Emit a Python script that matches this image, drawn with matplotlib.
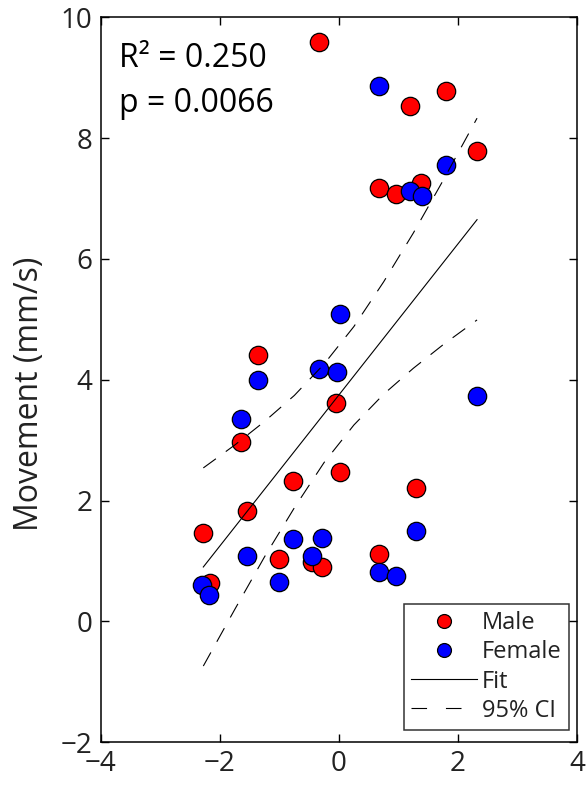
import numpy as np
import matplotlib.pyplot as plt
from matplotlib.lines import Line2D

plt.rcParams['font.family'] = ['Open Sans', 'DejaVu Sans']

# standardized predictor vs. movement, split by sex
male_x = [-0.33, 1.20, 1.79, 2.32, 0.67, 0.95, 1.38, -1.36, -0.05, -1.64,
          0.02, -0.78, 1.30, -1.55, -2.28, -1.00, 0.67, -0.46, -0.29, -2.16]
male_y = [9.59, 8.53, 8.78, 7.79, 7.18, 7.07, 7.26, 4.41, 3.61, 2.97,
          2.48, 2.33, 2.20, 1.82, 1.46, 1.03, 1.11, 0.98, 0.90, 0.64]
female_x = [0.67, 1.79, 1.20, 1.39, 0.02, -1.36, -0.33, -0.04, 2.32, -1.64,
            1.30, -0.78, -0.29, -1.55, -0.46, -1.00, 0.67, 0.95, -2.30, -2.19]
female_y = [8.86, 7.55, 7.12, 7.04, 5.09, 4.00, 4.18, 4.12, 3.73, 3.35,
            1.49, 1.37, 1.38, 1.08, 1.08, 0.65, 0.81, 0.75, 0.60, 0.44]

# regression line and 95% confidence band
fit_x = [-2.28, 2.32]
fit_y = [0.90, 6.65]
ci_x = [-2.28, -1.75, -1.25, -0.75, -0.25, 0.25, 0.75, 1.25, 1.75, 2.32]
ci_upper = [2.54, 2.92, 3.31, 3.74, 4.26, 4.88, 5.62, 6.43, 7.30, 8.33]
ci_lower = [-0.74, 0.20, 1.07, 1.88, 2.63, 3.25, 3.76, 4.19, 4.58, 4.99]

r2_text = 'R² = 0.250'
p_text = 'p = 0.0066'

fig = plt.figure(figsize=(5.87, 7.87), dpi=100)
ax = fig.add_axes([0.172, 0.057, 0.811, 0.921])

ax.scatter(male_x, male_y, s=175, c='red', edgecolors='black', linewidths=0.9, zorder=2)
ax.scatter(female_x, female_y, s=175, c='blue', edgecolors='black', linewidths=0.9, zorder=2)
ax.plot(fit_x, fit_y, color='black', lw=0.8, zorder=3)
ax.plot(ci_x, ci_upper, color='black', lw=0.8, dashes=(14, 11), zorder=3)
ax.plot(ci_x, ci_lower, color='black', lw=0.8, dashes=(14, 11), zorder=3)

ax.text(-3.69, 9.18, r2_text, fontsize=23, color='black')
ax.text(-3.69, 8.44, p_text, fontsize=23, color='black')

ax.set_xlim(-4, 4)
ax.set_ylim(-2, 10)
ax.set_xticks(np.arange(-4, 5, 2))
ax.set_yticks(np.arange(-2, 11, 2))
ax.tick_params(direction='in', length=6, width=1, top=True, right=True,
               labelsize=20, labelcolor='#222222', pad=6)
for s in ax.spines.values():
    s.set_linewidth(1.1)
ax.set_ylabel('Movement (mm/s)', fontsize=23, color='#222222')
ax.yaxis.set_label_coords(-0.115, 0.48)

handles = [
    Line2D([], [], ls='none', marker='o', ms=10, mfc='red', mec='black', mew=0.9),
    Line2D([], [], ls='none', marker='o', ms=10, mfc='blue', mec='black', mew=0.9),
    Line2D([], [], color='black', lw=0.8),
    Line2D([], [], color='black', lw=0.8, dashes=(14, 17)),
]
leg = ax.legend(handles, ['Male', 'Female', 'Fit', '95% CI'], loc='lower right',
                bbox_to_anchor=(0.983, 0.017), borderaxespad=0, fontsize=17,
                frameon=True, fancybox=False, edgecolor='black', handlelength=2.8,
                handletextpad=0.2, labelspacing=0.22, borderpad=0.3)
leg.get_frame().set_linewidth(1.1)
for t in leg.get_texts():
    t.set_color('#222222')

fig.savefig('out.png', dpi=100)
